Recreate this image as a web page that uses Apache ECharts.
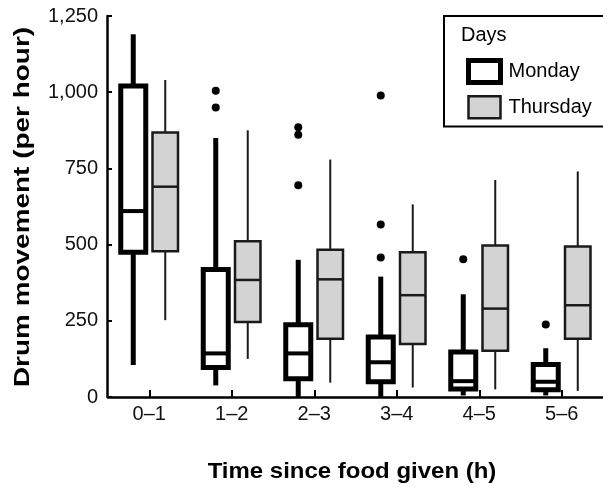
<!DOCTYPE html>
<html>
<head>
<meta charset="utf-8">
<script src="https://cdn.jsdelivr.net/npm/echarts@6/dist/echarts.min.js"></script>
<style>html,body{margin:0;padding:0;background:#fff;}#chart{width:603px;height:487px;}</style>
</head>
<body>
<div id="chart"></div>
<script>
// ---- data ----
const categories = ['0–1', '1–2', '2–3', '3–4', '4–5', '5–6'];
// [min, Q1, median, Q3, max]
const mondayBoxes = [
  [105, 475, 610, 1020, 1190],
  [38, 97, 143, 418, 850],
  [0, 60, 143, 237, 450],
  [0, 50, 114, 197, 395],
  [5, 26, 52, 148, 337],
  [5, 24, 50, 107, 160]
];
const thursdayBoxes = [
  [252, 478, 690, 868, 1040],
  [125, 246, 384, 511, 875],
  [47, 191, 386, 483, 779],
  [31, 174, 334, 475, 632],
  [25, 152, 290, 497, 712],
  [20, 191, 301, 494, 740]
];
// Monday outliers: [category index, value]
const mondayOutliers = [
  [1, 1005], [1, 950],
  [2, 885], [2, 860], [2, 695],
  [3, 989], [3, 566], [3, 458],
  [4, 452],
  [5, 238]
];
const yTicks = [0, 250, 500, 750, 1000, 1250];
const seriesNames = ['Monday', 'Thursday'];
const legendTitle = 'Days';
const xTitle = 'Time since food given (h)';
const yTitle = 'Drum movement (per hour)';

const FONT = "'Liberation Sans', Arial, Helvetica, sans-serif";

function boxData(arr) {
  return arr.map((b, i) => [i].concat(b));
}

function makeRender(opt) {
  return function (params, api) {
    const c = api.value(0);
    const lo = api.coord([c, api.value(1)]);
    const q1 = api.coord([c, api.value(2)]);
    const md = api.coord([c, api.value(3)]);
    const q3 = api.coord([c, api.value(4)]);
    const hi = api.coord([c, api.value(5)]);
    const x = lo[0] + opt.offset;
    const h = opt.width / 2;
    return {
      type: 'group',
      children: [
        { type: 'line', shape: { x1: x, y1: hi[1], x2: x, y2: q3[1] }, style: { stroke: opt.stroke, lineWidth: opt.whisker } },
        { type: 'line', shape: { x1: x, y1: q1[1], x2: x, y2: lo[1] }, style: { stroke: opt.stroke, lineWidth: opt.whisker } },
        { type: 'rect', shape: { x: x - h, y: q3[1], width: opt.width, height: q1[1] - q3[1] }, style: { fill: opt.fill, stroke: opt.stroke, lineWidth: opt.box } },
        { type: 'line', shape: { x1: x - h, y1: md[1], x2: x + h, y2: md[1] }, style: { stroke: opt.stroke, lineWidth: opt.median } }
      ]
    };
  };
}

const chart = echarts.init(document.getElementById('chart'), null, { renderer: 'canvas' });

const option = {
  animation: false,
  backgroundColor: '#ffffff',
  grid: { left: 108, right: -6, top: 16, bottom: 90, containLabel: false },
  xAxis: {
    type: 'category',
    data: categories,
    boundaryGap: true,
    axisLine: { show: true, lineStyle: { color: '#000', width: 2.5 } },
    axisTick: { show: true, inside: true, alignWithLabel: true, length: 7, lineStyle: { color: '#000', width: 2 } },
    axisLabel: { color: '#111', fontSize: 20, fontFamily: FONT, margin: 7 },
    splitLine: { show: false }
  },
  yAxis: {
    type: 'value',
    min: 0, max: 1250, interval: 250,
    offset: 1,
    axisLine: { show: true, lineStyle: { color: '#000', width: 2.5 } },
    axisTick: { show: true, inside: true, length: 5, lineStyle: { color: '#000', width: 2 } },
    axisLabel: {
      color: '#111', fontSize: 20, fontFamily: FONT, margin: 9,
      formatter: v => yTicks.indexOf(v) >= 0 ? v.toLocaleString('en-US') : ''
    },
    splitLine: { show: false }
  },
  legend: {
    orient: 'vertical',
    left: 444, top: 16,
    itemWidth: 32, itemHeight: 22, itemGap: 10,
    padding: [42, 40, 7, 22],
    borderColor: '#000', borderWidth: 2,
    selectedMode: false,
    textStyle: { fontSize: 20, fontFamily: FONT, color: '#000', padding: [0, 0, 0, 3] },
    data: [
      { name: seriesNames[0], icon: 'rect', itemStyle: { color: '#fff', borderColor: '#000', borderWidth: 5 } },
      { name: seriesNames[1], icon: 'rect', itemStyle: { color: '#d3d3d3', borderColor: '#1a1a1a', borderWidth: 2.5 } }
    ]
  },
  graphic: [
    { type: 'text', x: 461, y: 35, style: { text: legendTitle, font: '20px ' + FONT, fill: '#000', align: 'left', verticalAlign: 'middle', textAlign: 'left', textVerticalAlign: 'middle' } },
    { type: 'text', x: 352, y: 472, scaleX: 1.09, style: { text: xTitle, font: 'bold 22px ' + FONT, fill: '#000', align: 'center', verticalAlign: 'middle', textAlign: 'center', textVerticalAlign: 'middle' } },
    { type: 'text', x: 23, y: 207, rotation: Math.PI / 2, scaleX: 1.27, style: { text: yTitle, font: 'bold 22px ' + FONT, fill: '#000', align: 'center', verticalAlign: 'middle', textAlign: 'center', textVerticalAlign: 'middle' } }
  ],
  series: [
    {
      name: seriesNames[0], type: 'custom',
      itemStyle: { color: '#fff', borderColor: '#000', borderWidth: 5 },
      encode: { x: 0, y: [1, 2, 3, 4, 5] },
      data: boxData(mondayBoxes),
      renderItem: makeRender({ offset: -16, width: 25, fill: '#fff', stroke: '#000', box: 5, whisker: 5, median: 4 }),
      z: 2
    },
    {
      name: seriesNames[1], type: 'custom',
      itemStyle: { color: '#d3d3d3', borderColor: '#1a1a1a', borderWidth: 2.5 },
      encode: { x: 0, y: [1, 2, 3, 4, 5] },
      data: boxData(thursdayBoxes),
      renderItem: makeRender({ offset: 16, width: 25.5, fill: '#d3d3d3', stroke: '#1a1a1a', box: 2.5, whisker: 2, median: 2.5 }),
      z: 2
    },
    {
      name: 'Monday outliers', type: 'scatter',
      data: mondayOutliers,
      symbol: 'circle', symbolSize: 8, symbolOffset: [-16, 0],
      itemStyle: { color: '#000', opacity: 1 },
      z: 3
    }
  ]
};
chart.setOption(option);
</script>
</body>
</html>
